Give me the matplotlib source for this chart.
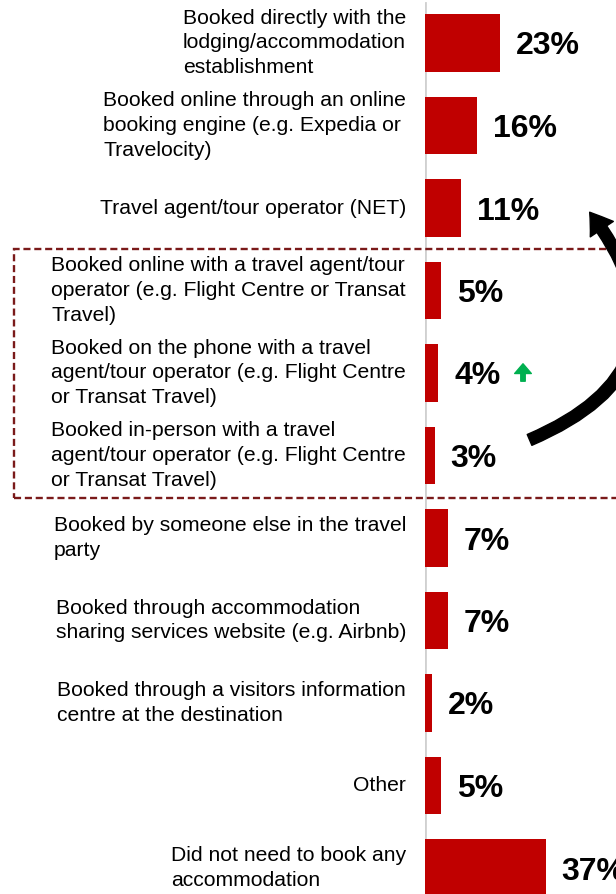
import matplotlib
matplotlib.use("Agg")
import matplotlib.pyplot as plt
from matplotlib.patches import Rectangle, FancyArrowPatch

plt.rcParams['font.family'] = ['Liberation Sans', 'DejaVu Sans']

# data
categories = [
    "Booked directly with the\nlodging/accommodation\nestablishment",
    "Booked online through an online\nbooking engine (e.g. Expedia or\nTravelocity)",
    "Travel agent/tour operator (NET)",
    "Booked online with a travel agent/tour\noperator (e.g. Flight Centre or Transat\nTravel)",
    "Booked on the phone with a travel\nagent/tour operator (e.g. Flight Centre\nor Transat Travel)",
    "Booked in-person with a travel\nagent/tour operator (e.g. Flight Centre\nor Transat Travel)",
    "Booked by someone else in the travel\nparty",
    "Booked through accommodation\nsharing services website (e.g. Airbnb)",
    "Booked through a visitors information\ncentre at the destination",
    "Other",
    "Did not need to book any\naccommodation",
]
values = [23, 16, 11, 5, 4, 3, 7, 7, 2, 5, 37]
labels = [f"{v}%" for v in values]

W, H = 616, 894
fig = plt.figure(figsize=(W / 100, H / 100), dpi=100)

# axes: zero line at x=425px, rows 82.5px apart, first row centred at 43px
x0 = 425
px_per_pct = 3.26
row = 82.5
first = 43
ax = fig.add_axes([x0 / W, 0, (W - x0) / W, 1])
ax.set_xlim(0, (W - x0) / px_per_pct)
ax.set_ylim((H - first) / row, -first / row)
ax.axis('off')

ypos = list(range(len(values)))
ax.barh(ypos, values, height=0.70, color='#C00000', zorder=2)
ax.axvline(0, ymax=1 - 3 / H, color='#d0d0d0', lw=2, zorder=1)

for y, v, lab, cat in zip(ypos, values, labels, categories):
    ax.annotate(lab, xy=(v, y), xytext=(11.5, 0), textcoords='offset points',
                ha='left', va='center_baseline', fontsize=23,
                fontweight='bold', color='black')
    ax.annotate(cat, xy=(0, y), xytext=(-13.7, 0), textcoords='offset points',
                ha='right', va='center', multialignment='left',
                fontsize=15.2, linespacing=1.37, color='black',
                annotation_clip=False)

# dashed box around the travel agent breakdown
box = Rectangle((14 / W, 1 - 498 / H), 700 / W, (498 - 249) / H,
                transform=fig.transFigure, fill=False, edgecolor='#7a1a1a',
                lw=1.7, linestyle=(0, (3, 1.6)), zorder=5)
fig.add_artist(box)

# curved arrow pointing back to the NET bar
curve = FancyArrowPatch((527 / W, 1 - 441 / H), (588 / W, 1 - 210 / H),
                        transform=fig.transFigure,
                        connectionstyle="arc3,rad=0.65",
                        arrowstyle="simple,head_width=20,head_length=15,tail_width=8.5",
                        color='black', zorder=6)
fig.add_artist(curve)

# green up arrow next to 4%
up = FancyArrowPatch((523 / W, 1 - 384 / H), (523 / W, 1 - 361 / H),
                     transform=fig.transFigure,
                     arrowstyle="simple,head_width=12,head_length=7,tail_width=3.2",
                     color='#00B050', zorder=6)
fig.add_artist(up)

fig.savefig("out.png", dpi=100)
